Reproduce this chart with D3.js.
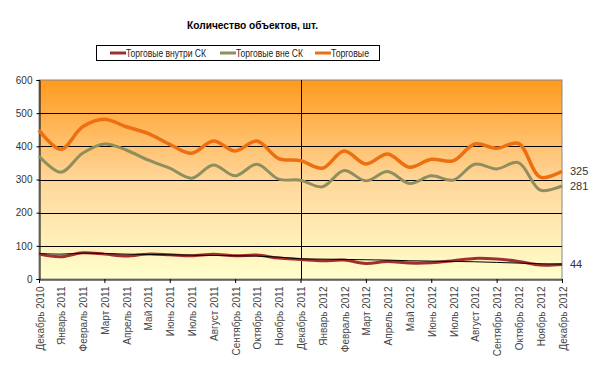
<!DOCTYPE html>
<html><head><meta charset="utf-8">
<script src="https://cdn.jsdelivr.net/npm/d3@7"></script>
<style>body{margin:0;background:#fff;}svg{display:block;font-family:Arial,"Liberation Sans",sans-serif;}</style>
</head><body>
<script>
const categories = ["Декабрь 2010","Январь 2011","Февраль 2011","Март 2011","Апрель 2011","Май 2011","Июнь 2011","Июль 2011","Август 2011","Сентябрь 2011","Октябрь 2011","Ноябрь 2011","Декабрь 2011","Январь 2012","Февраль 2012","Март 2012","Апрель 2012","Май 2012","Июнь 2012","Июль 2012","Август 2012","Сентябрь 2012","Октябрь 2012","Ноябрь 2012","Декабрь 2012"];
const inside = [75,67,79,75,69,75,73,70,75,70,72,63,59,55,57,47,53,48,49,55,62,60,53,42,44];
const outside = [371,322,379,407,389,359,334,304,344,311,346,301,298,278,327,296,324,288,311,298,346,332,351,268,281];
const total = [449,391,459,482,459,439,406,379,416,386,416,363,357,334,386,347,377,337,361,356,407,394,409,307,325];
const trend = [77,75,78,77,75,74,73,72,71,70,69,66,61,60,59,58,57,55,54,53,52,50,48,46,45];
const seriesNames = ["Торговые внутри СК","Торговые вне СК","Торговые"];
const yTicks = [0,100,200,300,400,500,600];
const title = "Количество объектов, шт.";
const divider = "Декабрь 2011";

const W=600,H=368;
const svg=d3.select("body").append("svg").attr("width",W).attr("height",H);
const L=39,R=562,T=80,B=279;
const x=d3.scalePoint().domain(categories).range([L,R]);
const y=d3.scaleLinear().domain([0,600]).range([B,T]);

const defs=svg.append("defs");
const g=defs.append("linearGradient").attr("id","bg").attr("x1",0).attr("y1",0).attr("x2",0).attr("y2",1);
g.append("stop").attr("offset","0%").attr("stop-color","#FF9A1E");
g.append("stop").attr("offset","50%").attr("stop-color","#FFD699");
g.append("stop").attr("offset","100%").attr("stop-color","#FFFFCC");

svg.append("rect").attr("x",L).attr("y",T).attr("width",R-L).attr("height",B-T).attr("fill","url(#bg)").attr("stroke","#888").attr("stroke-width",1);

// gridlines
svg.append("g").selectAll("line").data(yTicks.filter(d=>d>0&&d<600)).join("line")
 .attr("x1",L).attr("x2",R).attr("y1",d=>Math.round(y(d))+0.5).attr("y2",d=>Math.round(y(d))+0.5)
 .attr("stroke","#000").attr("stroke-width",1);

// y axis
const ya=svg.append("g").attr("transform",`translate(${L+0.5},0)`)
 .call(d3.axisLeft(y).tickValues(yTicks).tickSize(3).tickPadding(4));
ya.select(".domain").attr("stroke","#000");
ya.selectAll("text").attr("font-size","10px").attr("fill","#333").attr("font-family","Arial, 'Liberation Sans', sans-serif");

// x axis
const xa=svg.append("g").attr("transform",`translate(0,${B+0.5})`)
 .call(d3.axisBottom(x).tickSize(0).tickPadding(0));
xa.select(".domain").attr("stroke","#000");
xa.selectAll("text").attr("font-size","10px").attr("fill","#444")
 .attr("font-family","Arial, 'Liberation Sans', sans-serif")
 .attr("text-anchor","end").attr("transform","rotate(-90)").attr("dx","-7px").attr("dy","4px").attr("y",0);
svg.append("g").selectAll("line").data(categories.filter((d,i)=>i%3===0)).join("line")
 .attr("x1",d=>x(d)+0.5).attr("x2",d=>x(d)+0.5).attr("y1",B).attr("y2",B+4).attr("stroke","#000");

// divider
svg.append("line").attr("x1",Math.round(x(divider))+0.5).attr("x2",Math.round(x(divider))+0.5)
 .attr("y1",T).attr("y2",B).attr("stroke","#000").attr("stroke-width",1);

const line=d3.line().x((d,i)=>x(categories[i])).y(d=>y(d)).curve(d3.curveCatmullRom.alpha(0.5));
const series=[
 {name:seriesNames[0],data:inside,color:"#A0302E",w:3,tl:80},
 {name:seriesNames[1],data:outside,color:"#8E8E5E",w:3,tl:67},
 {name:seriesNames[2],data:total,color:"#EC7012",w:3.5,tl:38}
];
series.forEach(s=>{
 svg.append("path").datum(s.data).attr("d",line).attr("fill","none").attr("stroke",s.color).attr("stroke-width",s.w).attr("stroke-linejoin","round");
});
svg.append("path").datum(trend).attr("d",line).attr("fill","none").attr("stroke","#000").attr("stroke-width",1);

// end labels
[total,outside,inside].forEach((arr,i)=>{
 const v=arr[arr.length-1];
 svg.append("text").attr("x",R+8).attr("y",y(v)+4).attr("font-size","11px").attr("fill","#333").text(v);
});

// title
svg.append("text").attr("x",187).attr("y",29).attr("font-size","11px").attr("font-weight","bold").attr("fill","#000")
 .attr("textLength",131).attr("lengthAdjust","spacingAndGlyphs").text(title);

// legend
const lg=svg.append("g");
lg.append("rect").attr("x",96.5).attr("y",45.5).attr("width",283).attr("height",15).attr("fill","#fff").attr("stroke","#000").attr("stroke-width",1);
const lx=[110,220,315];
series.forEach((s,i)=>{
 lg.append("line").attr("x1",lx[i]).attr("x2",lx[i]+16).attr("y1",53).attr("y2",53).attr("stroke",s.color).attr("stroke-width",3);
 lg.append("text").attr("x",lx[i]+16).attr("y",57).attr("font-size","10px").attr("fill","#222")
  .attr("textLength",s.tl).attr("lengthAdjust","spacingAndGlyphs").text(s.name);
});
</script>
</body></html>
